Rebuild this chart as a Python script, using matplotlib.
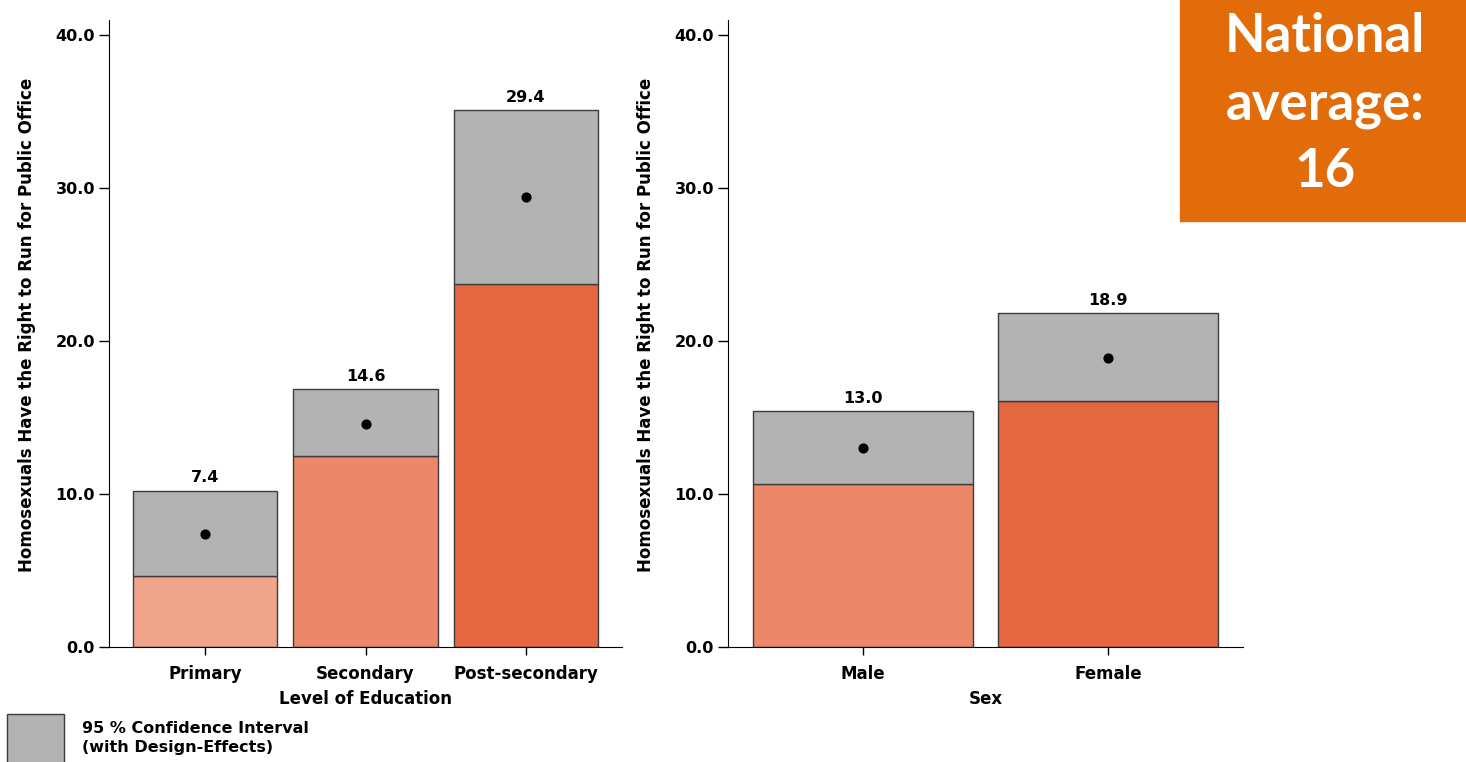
import numpy as np
import matplotlib.pyplot as plt
from matplotlib.patches import Rectangle

# data
edu_cats = ['Primary', 'Secondary', 'Post-secondary']
edu_mean = [7.4, 14.6, 29.4]
edu_low = [4.64, 12.48, 23.73]
edu_high = [10.2, 16.86, 35.1]

sex_cats = ['Male', 'Female']
sex_mean = [13.0, 18.9]
sex_low = [10.65, 16.08]
sex_high = [15.42, 21.83]

yticks = [0, 10, 20, 30, 40]
ylab = 'Homosexuals Have the Right to Run for Public Office'
national_avg = 16

edu_colors = ['#f0a58b', '#ec876a', '#e56740']
sex_colors = ['#ec876a', '#e56740']
ci_color = '#b3b3b3'
edge = '#3c3c3c'

plt.rcParams['font.family'] = ['DejaVu Sans']
plt.rcParams['font.weight'] = 'bold'

fig = plt.figure(figsize=(14.66, 7.62), dpi=100)
W, H = 1466, 762


def panel(rect, cats, mean, low, high, colors, xlim, xlabel):
    ax = fig.add_axes(rect)
    x = np.arange(len(cats))
    ax.bar(x, low, width=0.9, color=colors, edgecolor=edge, linewidth=1)
    ci = np.array(high) - np.array(low)
    ax.bar(x, ci, bottom=low, width=0.9, color=ci_color, edgecolor=edge, linewidth=1)
    ax.scatter(x, mean, s=40, color='black', zorder=3)
    for xi, m, h in zip(x, mean, high):
        ax.annotate(f'{m:.1f}', (xi, h), textcoords='offset points', xytext=(0, 4),
                    ha='center', va='bottom', fontsize=11.5, fontweight='bold')
    ax.set_xlim(*xlim)
    ax.set_ylim(0, 41)
    ax.set_yticks(yticks)
    ax.set_yticklabels([f'{v:.1f}' for v in yticks], fontsize=11.5, fontweight='bold')
    ax.set_xticks(x)
    ax.set_xticklabels(cats, fontsize=12, fontweight='bold')
    ax.tick_params(axis='y', length=7, width=1, pad=3)
    ax.tick_params(axis='x', length=6, width=1, pad=7)
    ax.spines['top'].set_visible(False)
    ax.spines['right'].set_visible(False)
    ax.set_ylabel(ylab, fontsize=12, fontweight='bold')
    ax.yaxis.set_label_coords(-0.142, 0.513)
    ax.set_xlabel(xlabel, fontsize=12, fontweight='bold', labelpad=5)
    return ax


bot = 1 - 647 / H
hgt = (647 - 20) / H
ax1 = panel([109 / W, bot, 513 / W, hgt], edu_cats, edu_mean, edu_low, edu_high,
            edu_colors, (-0.6, 2.6), 'Level of Education')
ax2 = panel([728 / W, bot, 515 / W, hgt], sex_cats, sex_mean, sex_low, sex_high,
            sex_colors, (-0.55, 1.55), 'Sex')

# national average box
fig.add_artist(Rectangle((1180 / W, 1 - 221 / H), (W - 1180) / W, 221 / H,
                         transform=fig.transFigure, color='#e36c0a'))
fig.text(1325 / W, 1 - 104 / H, f'National\naverage:\n{national_avg}', ha='center', va='center',
         color='white', fontsize=38, fontweight='bold', family='Lato', linespacing=1.45)

# legend
fig.add_artist(Rectangle((7 / W, -0.02), 57 / W, (762 - 714) / H + 0.02,
                         transform=fig.transFigure, facecolor=ci_color, edgecolor=edge, linewidth=1))
fig.text(82 / W, 1 - 738 / H, '95 % Confidence Interval\n(with Design-Effects)',
         ha='left', va='center', fontsize=11.5, fontweight='bold', linespacing=1.3)

plt.savefig('out.png', dpi=100)
